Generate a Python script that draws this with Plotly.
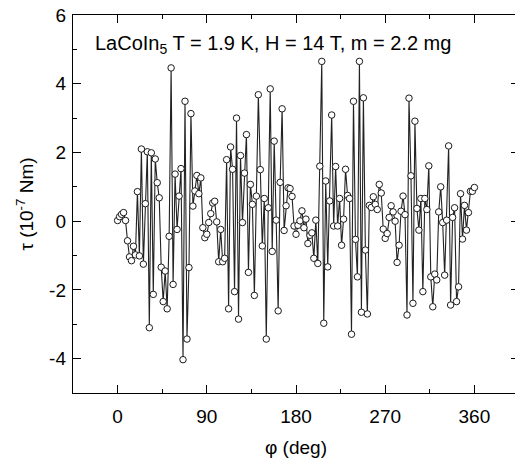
import plotly.graph_objects as go

# angle in degrees (2-degree steps) and torque in 1e-7 Nm
phi = list(range(0, 361, 2))
tau = [
    0.02, 0.13, 0.20, 0.25, 0.02, -0.57, -1.04, -1.15, -0.73, -0.98,
    0.86, -1.01, 2.10, -1.25, 0.51, 2.02, -3.10, 1.99, -2.13, 1.81,
    1.12, 0.68, -1.34, -2.34, -1.45, -2.55, -0.44, 4.46, -1.84, 1.37,
    -0.24, 0.73, 1.53, -4.03, 3.49, -3.43, -1.35, 3.13, 0.44, 0.88,
    1.33, 0.80, 1.26, -0.19, -0.48, -0.38, -0.04, 0.22, 0.53, 0.58,
    -0.02, -1.18, -0.24, -1.18, -1.08, 1.79, -2.55, 2.16, 1.51, -2.05,
    3.00, -2.85, 1.91, -0.04, 1.40, 2.52, -1.49, 1.07, 0.49, -2.16,
    0.73, 3.68, 1.50, -0.72, 0.66, -3.43, 0.39, 3.85, -0.88, 2.33,
    0.03, -2.61, 1.13, 3.27, -0.27, 0.45, 0.97, 0.95, 0.72, -0.14,
    -0.38, -0.12, 0.01, 0.30, -0.19, 0.06, -0.65, -0.41, -0.34, -1.08,
    0.03, -1.23, 1.60, 4.65, -2.97, 1.17, -1.33, 0.59, 3.09, -0.14,
    1.59, -0.14, 0.66, -0.70, 0.06, 1.51, 0.75, 0.66, -3.29, 3.49,
    -0.53, -1.62, 4.65, -2.65, 3.59, -0.84, -2.70, 0.46, 0.40, 0.71,
    0.49, 0.34, 1.07, 0.82, -0.23, -0.50, -0.36, 0.11, 0.45, 0.27,
    0.00, -1.20, -0.70, 0.29, 0.73, 0.19, -2.73, 3.58, 1.32, -2.39,
    2.91, 0.37, -0.26, 0.66, -2.05, 0.66, 0.34, 1.61, -1.62, -2.49,
    -1.54, -1.71, 0.27, 1.00, -0.04, -1.57, 0.03, 2.19, -2.44, 0.11,
    0.39, -2.34, -1.91, 0.80, -0.52, 0.46, -0.26, 0.25, 0.87, 0.87,
    0.98,
]

x_ticks = [0, 90, 180, 270, 360]
y_ticks = [-4, -2, 0, 2, 4, 6]
label = "LaCoIn<sub>5</sub> T = 1.9 K, H = 14 T, m = 2.2 mg"
x_title = "φ (deg)"
y_title = "τ (10<sup>-7</sup> Nm)"

FONT = "Arial, Liberation Sans, sans-serif"

fig = go.Figure()
fig.add_trace(go.Scatter(
    x=phi, y=tau, mode="lines+markers",
    line=dict(color="#222222", width=1.1),
    marker=dict(symbol="circle", size=6.5, color="white",
                line=dict(color="#1a1a1a", width=1)),
    showlegend=False, cliponaxis=False,
))

axis_common = dict(
    showline=True, linecolor="black", linewidth=1.4, mirror="allticks",
    ticks="inside", ticklen=8, tickwidth=1.2, tickcolor="black",
    showgrid=False, zeroline=False, automargin=False,
    ticklabeloverflow="allow",
    tickfont=dict(family=FONT, size=19, color="black"),
    title_font=dict(family=FONT, size=19, color="black"),
)

fig.update_xaxes(
    range=[-45, 405], tickvals=x_ticks, ticktext=[str(v) for v in x_ticks],
    minor=dict(ticks="inside", ticklen=4, tickwidth=1.2, tickcolor="black", dtick=45, tick0=0),
    title_text=x_title, title_standoff=14, ticklabelstandoff=6,
    **axis_common,
)
fig.update_yaxes(
    range=[-5, 6], tickvals=y_ticks, ticktext=[str(v) for v in y_ticks],
    minor=dict(ticks="inside", ticklen=4, tickwidth=1.2, tickcolor="black", dtick=1, tick0=0),
    title_text=y_title, title_standoff=10, ticklabelstandoff=2,
    **axis_common,
)

fig.add_annotation(
    text=label, xref="paper", yref="paper", x=0.045, y=0.923,
    xanchor="left", yanchor="middle", showarrow=False,
    font=dict(family=FONT, size=20, color="black"),
)

# the page body adds an 8 px offset, so margins are shifted to compensate
fig.update_layout(
    width=523, height=464,
    margin=dict(l=65, r=12, t=7, b=79),
    plot_bgcolor="white", paper_bgcolor="white",
)

fig.write_html("out.html")
